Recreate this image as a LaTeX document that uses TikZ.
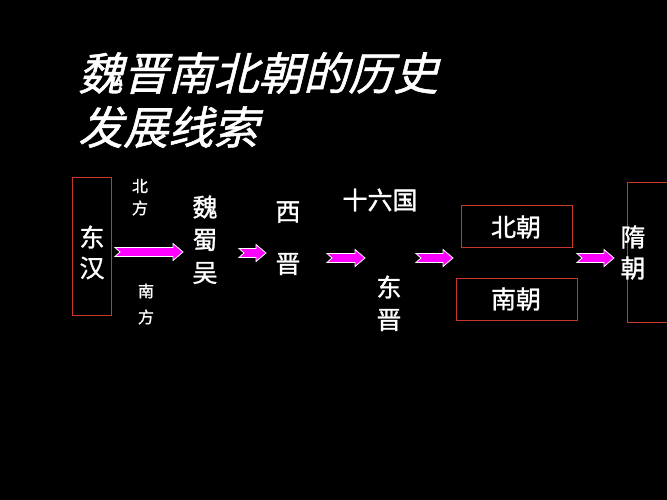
\documentclass[tikz,border=0pt]{standalone}
\usepackage{fontspec}
\newfontfamily\cjk[FakeBold=1.2]{Noto Sans CJK SC}
\newfontfamily\cjkit[FakeSlant=0.25,FakeBold=1.2]{Noto Sans CJK SC}
\newcommand\pinkarr[3]{\filldraw[parr] (#1,#3-4.5)--(#2-10,#3-4.5)--(#2-10,#3-8.5)--(#2,#3)--(#2-10,#3+8.5)--(#2-10,#3+4.5)--(#1,#3+4.5)--(#1+5,#3)--cycle;}
\begin{document}
\begin{tikzpicture}[x=1pt,y=-1pt,
  txt/.style={text=white,font=\cjk\fontsize{25}{28}\selectfont,inner sep=0},
  sm/.style={text=white,font=\cjk\fontsize{16}{20}\selectfont,inner sep=0},
  redbox/.style={draw={rgb,255:red,200;green,55;blue,40},line width=1pt},
  parr/.style={fill={rgb,255:red,255;green,0;blue,255},draw=white,line width=0.8pt,line join=miter}]
\fill[black] (0,0) rectangle (667,500);
\useasboundingbox (0,0) rectangle (667,500);
\node[anchor=west,text=white,font=\cjkit\fontsize{45}{50}\selectfont,inner sep=0] (t1) at (78,73) {魏晋南北朝的历史};
\node[anchor=west,text=white,font=\cjkit\fontsize{45}{50}\selectfont,inner sep=0] (t2) at (78,127) {发展线索};
\draw[redbox] (72,178) rectangle (111,315);
\node[txt] (dh1) at (92,237) {东};
\node[txt] (dh2) at (92,268) {汉};
\node[sm] (bf1) at (140,186) {北};
\node[sm] (bf2) at (140,208) {方};
\node[sm] (nf1) at (146,291) {南};
\node[sm] (nf2) at (146,317) {方};
\pinkarr{115}{183}{252}
\node[txt] (w1) at (205,207) {魏};
\node[txt] (w2) at (205,240) {蜀};
\node[txt] (w3) at (205,273) {吴};
\pinkarr{239}{266}{253}
\node[txt] (x1) at (288,212) {西};
\node[txt] (x2) at (288,264) {晋};
\pinkarr{327}{365}{258}
\node[txt] (sl) at (380,200) {十六国};
\node[txt] (dj1) at (389,287) {东};
\node[txt] (dj2) at (389,320) {晋};
\pinkarr{416}{453}{258}
\draw[redbox] (461,205) rectangle (572,247);
\node[txt] (bc) at (516,227) {北朝};
\draw[redbox] (456,278) rectangle (577,320);
\node[txt] (nc) at (516,299) {南朝};
\pinkarr{577}{614}{258}
\draw[redbox] (627,183) rectangle (668,322);
\node[txt] (s1) at (633,237) {隋};
\node[txt] (s2) at (633,268) {朝};
\end{tikzpicture}
\end{document}
